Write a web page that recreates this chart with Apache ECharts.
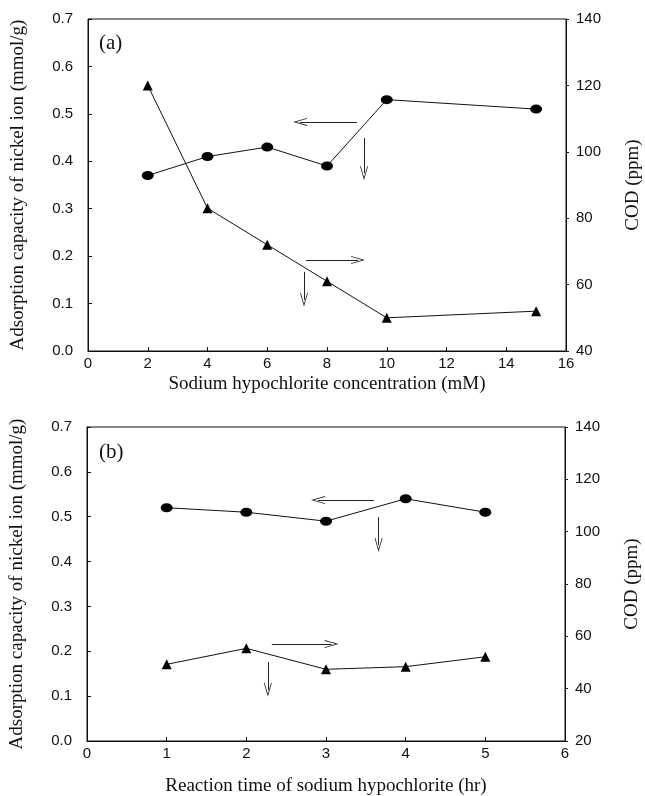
<!DOCTYPE html>
<html>
<head>
<meta charset="utf-8">
<script src="https://cdn.jsdelivr.net/npm/echarts@6/dist/echarts.min.js"></script>
<style>
  html, body { margin: 0; padding: 0; background: #fff; }
  #chart { width: 645px; height: 796px; }
</style>
</head>
<body>
<div id="chart"></div>
<script>
// panel (a): sodium hypochlorite concentration
var concA = [2, 4, 6, 8, 10, 15];
var nickelA = [0.37, 0.41, 0.43, 0.39, 0.53, 0.51];
var codA = [120, 83, 72, 61, 50, 52];
// panel (b): reaction time
var timeB = [1, 2, 3, 4, 5];
var nickelB = [0.52, 0.51, 0.49, 0.54, 0.51];
var codB = [49.3, 55.4, 47.4, 48.4, 52.2];

// arrows drawn in data coords of the left axis, [x1, y1, x2, y2]
var arrowsA = [[9.0, 0.483, 7.1, 0.483], [9.24, 0.449, 9.24, 0.375], [7.3, 0.192, 9.04, 0.192], [7.23, 0.167, 7.23, 0.108]];
var arrowsB = [[3.6, 0.537, 2.9, 0.537], [3.66, 0.499, 3.66, 0.437], [2.32, 0.216, 3.07, 0.216], [2.27, 0.176, 2.27, 0.114]];

function pairs(xs, ys) {
    return xs.map(function (x, i) { return [x, ys[i]]; });
}

var serif = '"Liberation Serif", "DejaVu Serif", serif';
var sans = '"Liberation Sans", Arial, sans-serif';
// thin open arrow head, tip at top
var headPath = 'path://M5,0 L10,14 L9,14 L5,3 L1,14 L0,14 Z';

function arrowLines(list) {
    return {
        silent: true,
        symbol: ['none', headPath],
        symbolSize: [8, 14],
        label: { show: false },
        lineStyle: { color: '#222', width: 1, type: 'solid' },
        data: list.map(function (a) {
            return [{ coord: [a[0], a[1]] }, { coord: [a[2], a[3]] }];
        })
    };
}

function xAxisOf(grid, max, interval, name, gap) {
    return {
        type: 'value', gridIndex: grid, min: 0, max: max, interval: interval,
        name: name, nameLocation: 'middle', nameGap: gap,
        nameTextStyle: { fontFamily: serif, fontSize: 19, color: '#111' },
        axisLine: { lineStyle: { color: '#111' } },
        axisTick: { inside: true, length: 4, lineStyle: { color: '#111' } },
        axisLabel: { fontFamily: sans, fontSize: 15, color: '#111', margin: 5 },
        splitLine: { show: false }
    };
}

function leftAxis(grid) {
    return {
        type: 'value', gridIndex: grid, min: 0, max: 0.7, interval: 0.1,
        name: 'Adsorption capacity of nickel ion (mmol/g)',
        nameLocation: 'middle', nameGap: 60, nameRotate: 90,
        nameTextStyle: { fontFamily: serif, fontSize: 19, color: '#111' },
        axisLine: { show: true, lineStyle: { color: '#111' } },
        axisTick: { show: true, inside: true, length: 4, lineStyle: { color: '#111' } },
        axisLabel: { fontFamily: sans, fontSize: 15, color: '#111', margin: 15,
            formatter: function (v) { return v.toFixed(1); } },
        splitLine: { show: false }
    };
}

function rightAxis(grid, min, max) {
    return {
        type: 'value', gridIndex: grid, position: 'right', min: min, max: max, interval: 20,
        name: 'COD (ppm)', nameLocation: 'middle', nameGap: 58, nameRotate: 90,
        nameTextStyle: { fontFamily: serif, fontSize: 19, color: '#111' },
        axisLine: { show: true, lineStyle: { color: '#111' } },
        axisTick: { show: true, length: 3, lineStyle: { color: '#111' } },
        axisLabel: { fontFamily: sans, fontSize: 15, color: '#111', margin: 10 },
        splitLine: { show: false }
    };
}

function lineSeries(xi, yi, data, symbol, size, arrows) {
    var s = {
        type: 'line', xAxisIndex: xi, yAxisIndex: yi, data: data,
        symbol: symbol, symbolSize: size, showAllSymbol: true,
        lineStyle: { color: '#111', width: 1 },
        itemStyle: { color: '#000' },
        animation: false
    };
    if (arrows) s.markLine = arrowLines(arrows);
    return s;
}

var chart = echarts.init(document.getElementById('chart'));
chart.setOption({
    backgroundColor: '#fff',
    animation: false,
    grid: [
        { left: 88, top: 19, width: 478, height: 332, show: true, borderColor: '#111', borderWidth: 1,
          containLabel: false, outerBoundsMode: 'none' },
        { left: 87, top: 427, width: 478, height: 314, show: true, borderColor: '#111', borderWidth: 1,
          containLabel: false, outerBoundsMode: 'none' }
    ],
    xAxis: [
        xAxisOf(0, 16, 2, 'Sodium hypochlorite concentration (mM)', 24),
        xAxisOf(1, 6, 1, 'Reaction time of sodium hypochlorite (hr)', 36)
    ],
    yAxis: [leftAxis(0), rightAxis(0, 40, 140), leftAxis(1), rightAxis(1, 20, 140)],
    graphic: [
        { type: 'text', left: 99, top: 33, style: { text: '(a)', font: '21px ' + serif, fill: '#111' } },
        { type: 'text', left: 99, top: 442, style: { text: '(b)', font: '21px ' + serif, fill: '#111' } }
    ],
    series: [
        lineSeries(0, 0, pairs(concA, nickelA), 'circle', [12, 9], arrowsA),
        lineSeries(0, 1, pairs(concA, codA), 'triangle', 10),
        lineSeries(1, 2, pairs(timeB, nickelB), 'circle', [12, 9], arrowsB),
        lineSeries(1, 3, pairs(timeB, codB), 'triangle', 10)
    ]
});
</script>
</body>
</html>
